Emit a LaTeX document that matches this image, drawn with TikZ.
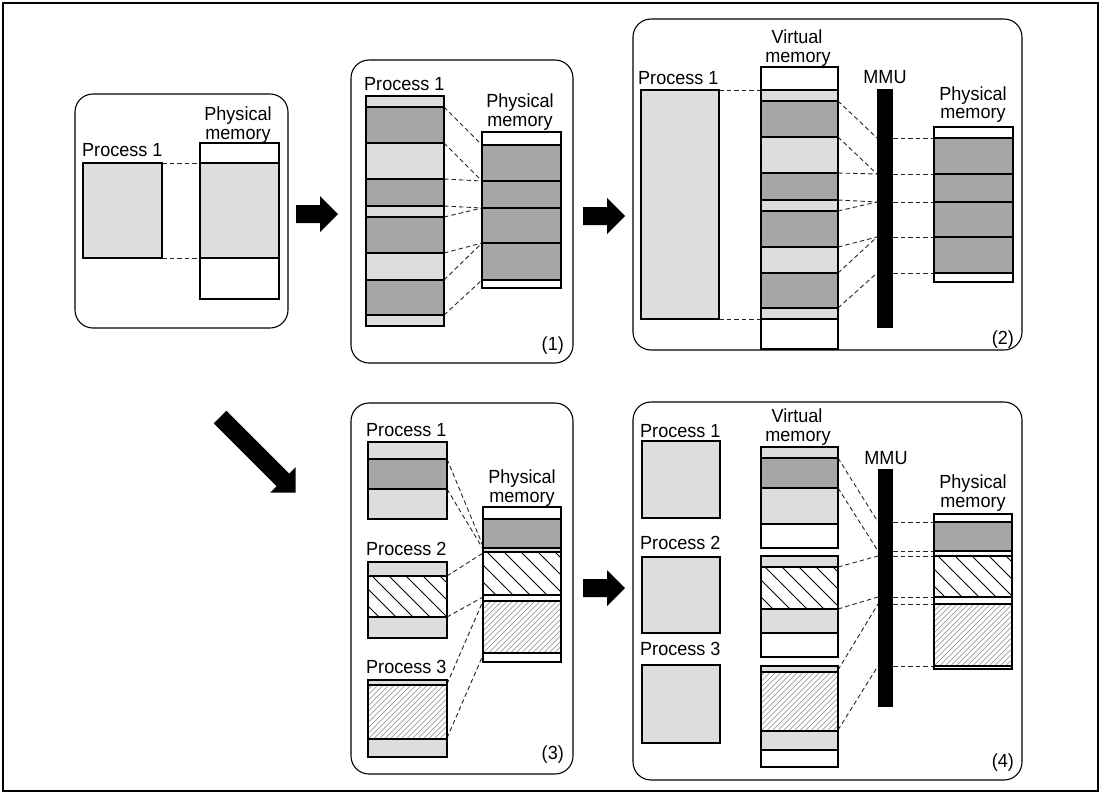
\documentclass[tikz,border=0pt]{standalone}
\usepackage{fontspec}
\setmainfont{Liberation Sans}
\newfontfamily\labfont[FakeStretch=0.95]{Liberation Sans}
\definecolor{lgray}{RGB}{221,221,221}
\definecolor{dgray}{RGB}{166,166,166}
\definecolor{hgray}{RGB}{135,135,135}
\tikzset{
 lt/.style={fill=lgray},
 dk/.style={fill=dgray},
 wt/.style={fill=white},
 hA/.style={fill=white, path picture={\foreach \k in {-6,...,6}{\draw[black,line width=0.9pt] ([xshift=\k*17pt+4pt]path picture bounding box.north west) -- ++(120pt,-120pt);}}},
 hB/.style={fill=white, path picture={\foreach \k in {-16,...,16}{\draw[hgray,line width=0.45pt] ([xshift=\k*5.5pt]path picture bounding box.south west) -- ++(120pt,120pt);}}},
 colline/.style={draw=black, line width=2pt},
 dl/.style={draw=black!85, line width=0.9pt, dash pattern=on 4.5pt off 3pt},
 panel/.style={draw=black, line width=1.1pt, rounded corners=18pt},
 lbl/.style={font=\labfont\fontsize{19}{21}\selectfont, inner sep=0pt},
 bar/.style={fill=black},
}
\newcommand\memcol[3]{%
 \foreach \ya/\yb/\fs in {#3}{\path[\fs] (#1,\ya) rectangle (#2,\yb);}
 \foreach \ya/\yb/\fs in {#3}{\draw[colline] (#1,\ya) rectangle (#2,\yb);}
}
\newcommand\dashln[4]{\draw[dl] (#1,#2) -- (#3,#4);}
\newcommand\harrow[3]{% xs, xe, cy
 \fill (#1,#3-9) -- (#2-18,#3-9) -- (#2-18,#3-18) -- (#2,#3) -- (#2-18,#3+18) -- (#2-18,#3+9) -- (#1,#3+9) -- cycle;}
\begin{document}
\begin{tikzpicture}[x=1pt,y=-1pt]
\useasboundingbox (0,0) rectangle (1103,796);
\fill[white] (0,0) rectangle (1103,796);
\draw[line width=2pt] (3,3) rectangle (1098,791);

% ---------------- panel 0
\draw[panel] (75,94) rectangle (288,328);
\node[lbl, anchor=base west] (p0l) at (82,156) {Process 1};
\node[lbl, anchor=base] (p0pa) at (238,120) {Physical};
\node[lbl, anchor=base] (p0pb) at (238,139) {memory};
\dashln{162}{163}{200}{163}
\dashln{162}{258}{200}{258}
\memcol{83}{162}{163/258/lt}
\memcol{200}{279}{143/163/wt,163/258/lt,258/299/wt}

\harrow{296}{338}{214}
\harrow{583}{625}{216}
\harrow{583}{625}{588}
\begin{scope}[shift={(220,417)}, rotate=-45]
 \fill (0,-9) -- (89,-9) -- (89,-18) -- (107,0) -- (89,18) -- (89,9) -- (0,9) -- cycle;
\end{scope}

% ---------------- panel 1
\draw[panel] (351,60) rectangle (573,363);
\node[lbl, anchor=base west] (p1l) at (364,90) {Process 1};
\node[lbl, anchor=base] (p1pa) at (520,107) {Physical};
\node[lbl, anchor=base] (p1pb) at (520,126) {memory};
\node[lbl, anchor=base east] (n1) at (564,350) {(1)};
\dashln{444}{107}{482}{145}
\dashln{444}{143}{482}{181}
\dashln{444}{179}{482}{181}
\dashln{444}{206}{482}{208}
\dashln{444}{217}{482}{208}
\dashln{444}{253}{482}{243}
\dashln{444}{280}{482}{243}
\dashln{444}{315}{482}{280}
\memcol{366}{444}{96/107/lt,107/143/dk,143/179/lt,179/206/dk,206/217/lt,217/253/dk,253/280/lt,280/315/dk,315/326/lt}
\memcol{482}{561}{132/145/wt,145/181/dk,181/208/dk,208/243/dk,243/280/dk,280/288/wt}

% ---------------- panel 2
\draw[panel] (633,19) rectangle (1022,350);
\node[lbl, anchor=base west] (p2l) at (638,84) {Process 1};
\node[lbl, anchor=base] (p2va) at (797,43) {Virtual};
\node[lbl, anchor=base] (p2vb) at (798,62) {memory};
\node[lbl, anchor=base] (p2m) at (885,83) {MMU};
\node[lbl, anchor=base] (p2pa) at (973,100) {Physical};
\node[lbl, anchor=base] (p2pb) at (973,118) {memory};
\node[lbl, anchor=base east] (n2) at (1014,344) {(2)};
\dashln{719}{90}{761}{90}
\dashln{719}{319}{761}{319}
\memcol{641}{719}{90/319/lt}
\dashln{838}{101}{877}{138}
\dashln{838}{137}{877}{174}
\dashln{838}{173}{877}{174}
\dashln{838}{200}{877}{202}
\dashln{838}{211}{877}{202}
\dashln{838}{247}{877}{237}
\dashln{838}{273}{877}{237}
\dashln{838}{308}{877}{273}
\foreach \yy in {138,174,202,237,273}{\dashln{893}{\yy}{934}{\yy}}
\memcol{761}{838}{67/90/wt,90/101/lt,101/137/dk,137/173/lt,173/200/dk,200/211/lt,211/247/dk,247/273/lt,273/308/dk,308/319/lt,319/349/wt}
\fill[bar] (877,89) rectangle (893,328);
\memcol{934}{1013}{127/138/wt,138/174/dk,174/202/dk,202/237/dk,237/273/dk,273/282/wt}

% ---------------- panel 3
\draw[panel] (351,403) rectangle (573,774);
\node[lbl, anchor=base west] (p3l1) at (366,436) {Process 1};
\node[lbl, anchor=base west] (p3l2) at (366,555) {Process 2};
\node[lbl, anchor=base west] (p3l3) at (366,673) {Process 3};
\node[lbl, anchor=base] (p3pa) at (522,483) {Physical};
\node[lbl, anchor=base] (p3pb) at (522,502) {memory};
\node[lbl, anchor=base east] (n3) at (564,759) {(3)};
\dashln{447}{459}{483}{546}
\dashln{447}{489}{483}{549}
\dashln{447}{576}{483}{553}
\dashln{447}{617}{483}{597}
\dashln{447}{684}{483}{601}
\dashln{447}{738}{483}{655}
\memcol{368}{447}{442/459/lt,459/489/dk,489/519/lt}
\memcol{368}{447}{562/576/lt,576/617/hA,617/638/lt}
\memcol{368}{447}{680/685/lt,685/739/hB,739/757/lt}
\memcol{483}{561}{507/519/wt,519/548/dk,548/552/lt,552/595/hA,595/601/wt,601/653/hB,653/662/wt}

% ---------------- panel 4
\draw[panel] (633,402) rectangle (1022,780);
\node[lbl, anchor=base west] (p4l1) at (640,437) {Process 1};
\node[lbl, anchor=base west] (p4l2) at (640,549) {Process 2};
\node[lbl, anchor=base west] (p4l3) at (640,655) {Process 3};
\node[lbl, anchor=base] (p4va) at (797,422) {Virtual};
\node[lbl, anchor=base] (p4vb) at (798,441) {memory};
\node[lbl, anchor=base] (p4m) at (886,464) {MMU};
\node[lbl, anchor=base] (p4pa) at (973,488) {Physical};
\node[lbl, anchor=base] (p4pb) at (973,507) {memory};
\node[lbl, anchor=base east] (n4) at (1014,767) {(4)};
\memcol{642}{720}{441/518/lt}
\memcol{642}{720}{557/633/lt}
\memcol{642}{720}{665/743/lt}
\dashln{838}{458}{878}{522}
\dashln{838}{488}{878}{551}
\dashln{838}{567}{878}{556}
\dashln{838}{609}{878}{597}
\dashln{838}{670}{878}{604}
\dashln{838}{730}{878}{666}
\foreach \yy in {522,551,556,597,604,666}{\dashln{893}{\yy}{934}{\yy}}
\memcol{761}{838}{447/458/lt,458/488/dk,488/524/lt,524/548/wt}
\memcol{761}{838}{556/567/lt,567/609/hA,609/633/lt,633/657/wt}
\memcol{761}{838}{666/672/lt,672/731/hB,731/750/lt,750/767/wt}
\fill[bar] (878,469) rectangle (893,707);
\memcol{934}{1012}{514/522/wt,522/551/dk,551/556/wt,556/597/hA,597/604/wt,604/666/hB,666/669/wt}
\end{tikzpicture}
\end{document}
